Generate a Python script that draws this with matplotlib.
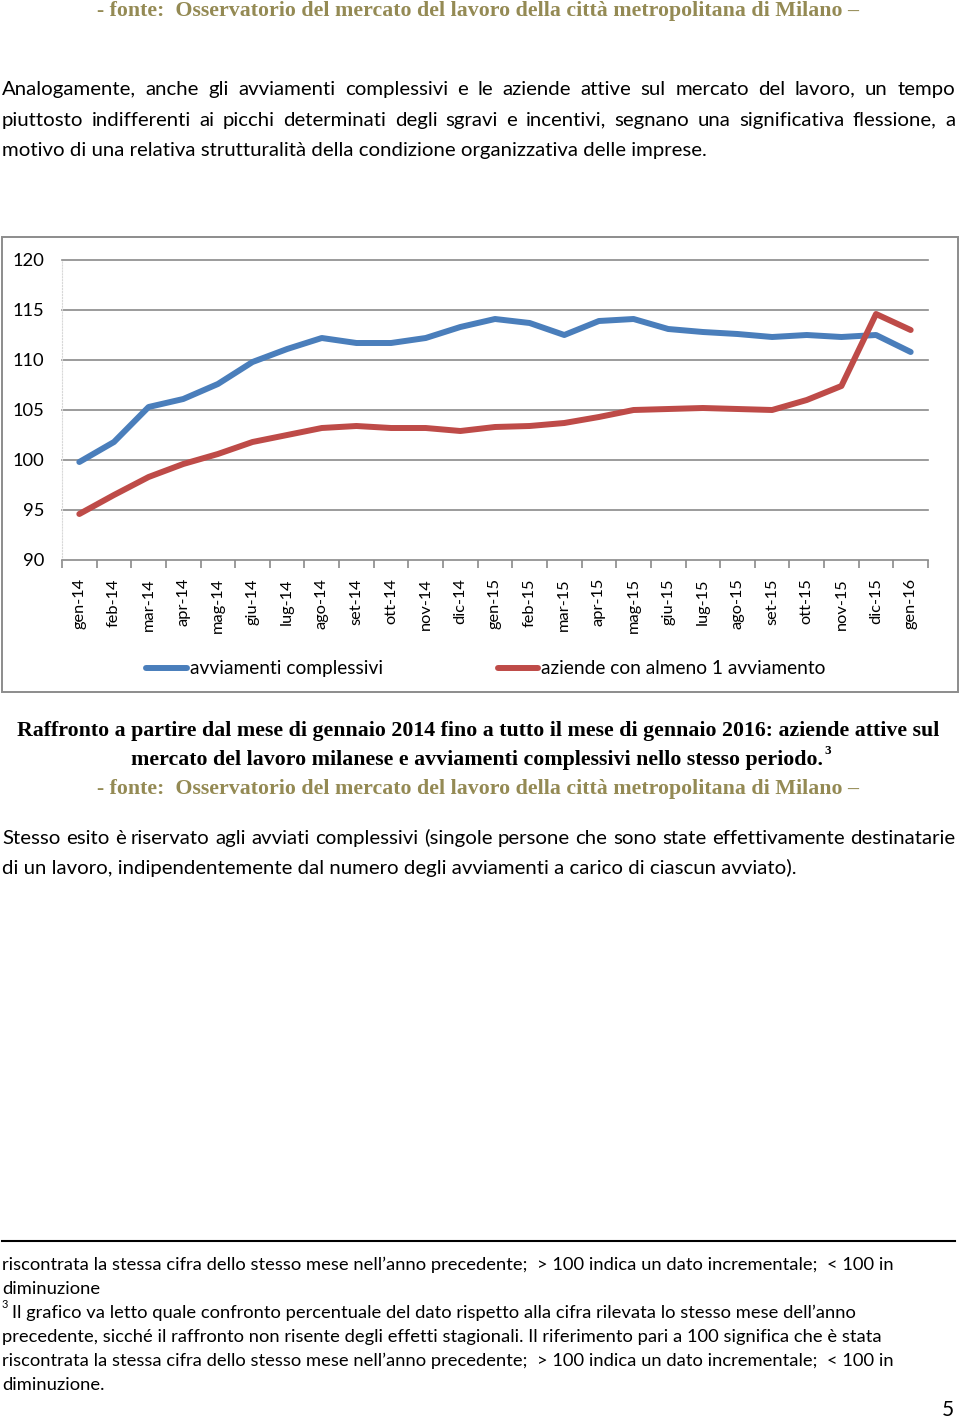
import matplotlib
matplotlib.use('Agg')
import matplotlib.pyplot as plt
from matplotlib import font_manager
from matplotlib.patches import Rectangle

# dati (indice = stesso mese anno precedente = 100)
mesi = ['gen-14', 'feb-14', 'mar-14', 'apr-14', 'mag-14', 'giu-14', 'lug-14',
        'ago-14', 'set-14', 'ott-14', 'nov-14', 'dic-14', 'gen-15', 'feb-15',
        'mar-15', 'apr-15', 'mag-15', 'giu-15', 'lug-15', 'ago-15', 'set-15',
        'ott-15', 'nov-15', 'dic-15', 'gen-16']
avviamenti = [99.8, 101.8, 105.3, 106.1, 107.6, 109.8, 111.1, 112.2, 111.7,
              111.7, 112.2, 113.3, 114.1, 113.7, 112.5, 113.9, 114.1, 113.1,
              112.8, 112.6, 112.3, 112.5, 112.3, 112.5, 110.8]
aziende = [94.6, 96.5, 98.3, 99.6, 100.6, 101.8, 102.5, 103.2, 103.4, 103.2,
           103.2, 102.9, 103.3, 103.4, 103.7, 104.3, 105.0, 105.1, 105.2,
           105.1, 105.0, 106.0, 107.4, 114.6, 113.0]
serie_nomi = ['avviamenti complessivi', 'aziende con almeno 1 avviamento']
tick_y = [90, 95, 100, 105, 110, 115, 120]


def font_ok(nome):
    try:
        font_manager.findfont(nome, fallback_to_default=False)
        return True
    except ValueError:
        return False


corpo = next(f for f in ['Liberation Sans Narrow', 'Lato', 'DejaVu Sans'] if font_ok(f))
serif = 'Liberation Serif' if font_ok('Liberation Serif') else 'DejaVu Serif'
oliva = '#948A54'

fig = plt.figure(figsize=(9.6, 14.2), dpi=100)
pag = fig.add_axes([0, 0, 1, 1])
pag.set_xlim(0, 960)
pag.set_ylim(1420, 0)
pag.axis('off')

# cornice del grafico
pag.add_patch(Rectangle((2, 237), 956, 455, fill=False, ec='#8c8c8c', lw=1.4))

ax = fig.add_axes([62 / 960, 1 - 560 / 1420, 866 / 960, 300 / 1420])
x = range(len(mesi))
l1, = ax.plot(x, avviamenti, color='#4A7EBB', lw=4.3, solid_joinstyle='round',
              solid_capstyle='round')
l2, = ax.plot(x, aziende, color='#BE4B48', lw=4.3, solid_joinstyle='round',
              solid_capstyle='round')
ax.set_xlim(-0.5, len(mesi) - 0.5)
ax.set_ylim(90, 120)
for v in tick_y[1:]:
    ax.axhline(v, color='#8a8a8a', lw=1.2, zorder=0, clip_on=False)
ax.set_yticks(tick_y)
ax.set_yticklabels([str(v) for v in tick_y], fontsize=13.2, family=corpo)
ax.set_xticks(list(x))
ax.set_xticklabels(mesi, rotation=90, fontsize=11.8, family=corpo)
ax.set_xticks([i - 0.5 for i in range(len(mesi) + 1)], minor=True)
ax.tick_params(axis='both', which='major', length=0)
ax.tick_params(axis='y', pad=13)
ax.tick_params(axis='x', pad=13)
ax.tick_params(axis='x', which='minor', length=6, color='#8a8a8a', width=1.2)
for s in ['top', 'right']:
    ax.spines[s].set_visible(False)
ax.spines['bottom'].set_color('#8a8a8a')
ax.spines['bottom'].set_linewidth(1.2)
ax.spines['left'].set_color('#d8d8d8')
ax.spines['left'].set_linestyle(':')

fig.legend([l1, l2], serie_nomi, loc='center', ncol=2, frameon=False,
           bbox_to_anchor=(486 / 960, 1 - 669 / 1420),
           prop={'family': corpo, 'size': 13.8},
           handlelength=2.1, handletextpad=0.16, columnspacing=6.0)

fig.canvas.draw()
r = fig.canvas.get_renderer()


def base(y, size):
    # da centro riga (px) a linea di base
    return y + 0.27 * size * 100 / 72


def scrivi(x, y, s, larghezza=None, size=12, **kw):
    t = pag.text(x, base(y, size), s, fontsize=size, va='baseline', **kw)
    if larghezza:
        w = t.get_window_extent(r).width
        nuovo = size * larghezza / w
        t.set_fontsize(nuovo)
        t.set_y(base(y, nuovo))
    return t


def giustifica(x0, x1, y, riga, size, **kw):
    parole = riga.split()
    tt = [pag.text(0, base(y, size), p, fontsize=size, va='baseline', **kw)
          for p in parole]
    ww = [t.get_window_extent(r).width for t in tt]
    gap = (x1 - x0 - sum(ww)) / (len(parole) - 1)
    pos = x0
    for t, w in zip(tt, ww):
        t.set_x(pos)
        pos += w + gap


fonte = '- fonte:  Osservatorio del mercato del lavoro della città metropolitana di Milano –'
scrivi(478, 10, fonte, 755, family=serif, weight='bold', color=oliva, ha='center')

# primo paragrafo
t = scrivi(2, 150, 'motivo di una relativa strutturalità della condizione organizzativa delle imprese.',
           703, family=corpo)
fs = t.get_fontsize()
giustifica(2, 955, 89, 'Analogamente, anche gli avviamenti complessivi e le aziende attive sul '
           'mercato del lavoro, un tempo', fs, family=corpo)
giustifica(2, 955, 120, 'piuttosto indifferenti ai picchi determinati degli sgravi e incentivi, '
           'segnano una significativa flessione, a', fs, family=corpo)

# didascalia
t = scrivi(478, 730, 'Raffronto a partire dal mese di gennaio 2014 fino a tutto il mese di '
           'gennaio 2016: aziende attive sul', 913, family=serif, weight='bold', ha='center')
fc = t.get_fontsize()
t = scrivi(131, 759, 'mercato del lavoro milanese e avviamenti complessivi nello stesso periodo.',
           size=fc, family=serif, weight='bold')
bb = t.get_window_extent(r)
pag.text(bb.x1 + 1, base(750, fc * 0.6), '3', fontsize=fc * 0.6, family=serif,
         weight='bold', va='baseline')
scrivi(478, 788, fonte, 755, family=serif, weight='bold', color=oliva, ha='center')

# secondo paragrafo
giustifica(2, 955, 838, 'Stesso esito è riservato agli avviati complessivi (singole persone che '
           'sono state effettivamente destinatarie', fs, family=corpo)
scrivi(2, 868, 'di un lavoro, indipendentemente dal numero degli avviamenti a carico di '
       'ciascun avviato).', size=fs, family=corpo)

# note a piè di pagina
pag.plot([2, 955], [1241, 1241], color='black', lw=1.5)
riga_a = ('riscontrata la stessa cifra dello stesso mese nell’anno precedente;  > 100 indica '
          'un dato incrementale;  < 100 in')
t = scrivi(2, 1265, riga_a, 886, family=corpo)
fn = t.get_fontsize()
scrivi(2, 1289, 'diminuzione', size=fn, family=corpo)
scrivi(2, 1305, '3', size=fn * 0.6, family=corpo)
scrivi(12, 1313, 'Il grafico va letto quale confronto percentuale del dato rispetto alla cifra '
       'rilevata lo stesso mese dell’anno', size=fn, family=corpo)
scrivi(2, 1337, 'precedente, sicché il raffronto non risente degli effetti stagionali. Il '
       'riferimento pari a 100 significa che è stata', size=fn, family=corpo)
scrivi(2, 1361, riga_a, size=fn, family=corpo)
scrivi(2, 1385, 'diminuzione.', size=fn, family=corpo)
scrivi(948, 1410, '5', size=15, family=corpo, ha='center')

fig.savefig('out.png', dpi=100)
